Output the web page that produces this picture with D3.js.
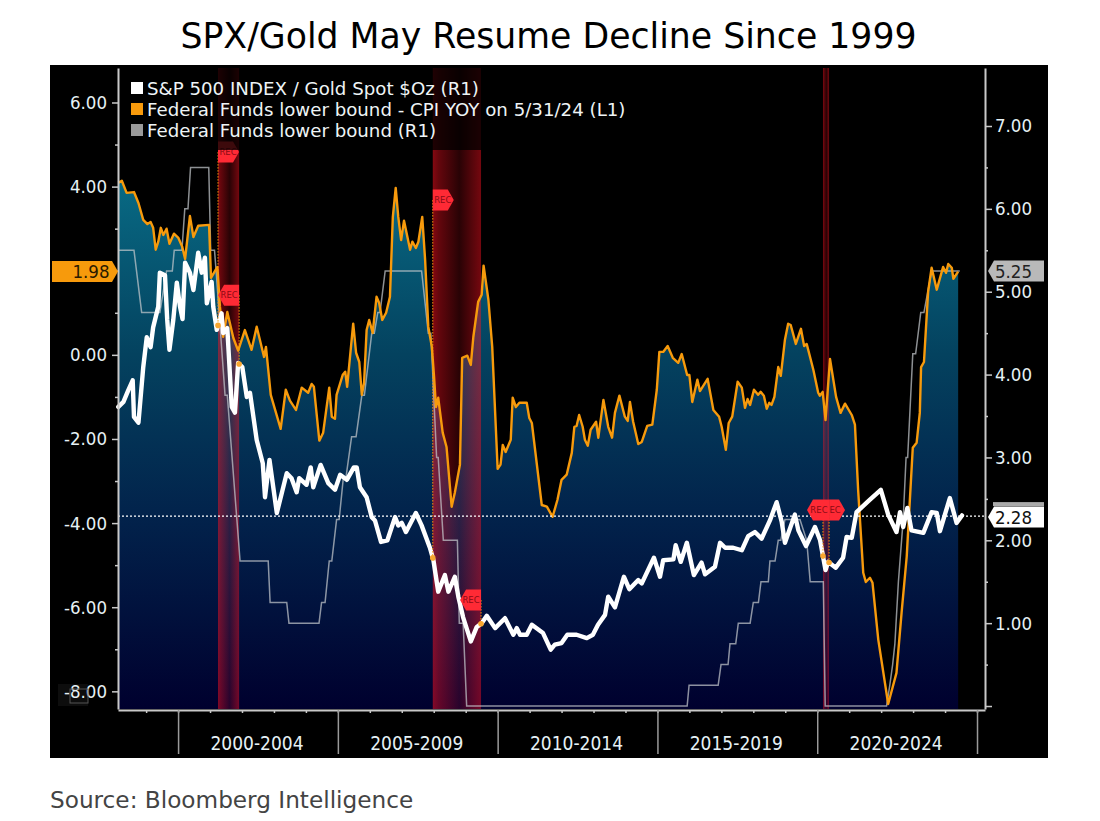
<!DOCTYPE html>
<html><head><meta charset="utf-8">
<script src="https://cdn.jsdelivr.net/npm/d3@7/dist/d3.min.js"></script>
<style>html,body{margin:0;padding:0;background:#fff}svg{display:block}text{font-family:"DejaVu Sans",sans-serif}.cond{font-family:"DejaVu Sans Condensed","DejaVu Sans",sans-serif;font-stretch:condensed}</style>
</head><body><svg id="c" width="1100" height="821"></svg>
<script>
const titleText="SPX/Gold May Resume Decline Since 1999";
const sourceText="Source: Bloomberg Intelligence";
const legendLabels=["S&P 500 INDEX / Gold Spot $Oz (R1)","Federal Funds lower bound - CPI YOY on 5/31/24 (L1)","Federal Funds lower bound (R1)"];
const legendColors=["#ffffff","#f79a0c","#9a9a9a"];
const periodLabels=["2000-2004","2005-2009","2010-2014","2015-2019","2020-2024"];
const periodStarts=[2000,2005,2010,2015,2020];
const leftMajor=[6,4,2,0,-2,-4,-6,-8];
const rightMajor=[7,6,5,4,3,2,1];
const recStart=[2001.25,2007.97,2020.18];
const recEnd=[2001.91,2009.48,2020.37];
const recStartTag=[4.82,3.68,-3.69];
const recEndTag=[1.42,-5.83,-3.69];

const realYears=[
1998.13,1998.24,1998.39,1998.62,1998.76,1998.91,1999.04,1999.14,1999.22,1999.30,
1999.38,1999.46,1999.54,1999.64,1999.73,1999.87,2000.01,2000.13,2000.22,2000.37,
2000.48,2000.63,2000.97,2001.03,2001.23,2001.31,2001.41,2001.54,2001.73,2001.88,
2002.09,2002.30,2002.46,2002.69,2002.75,2002.90,2003.21,2003.37,2003.50,2003.69,
2003.87,2004.07,2004.18,2004.25,2004.42,2004.54,2004.73,2004.81,2004.91,2004.96,
2005.15,2005.23,2005.29,2005.48,2005.57,2005.67,2005.75,2005.82,2005.90,2005.98,
2006.09,2006.21,2006.29,2006.39,2006.51,2006.63,2006.72,2006.81,2006.89,2006.98,
2007.07,2007.26,2007.33,2007.44,2007.52,2007.64,2007.73,2007.83,2007.94,2008.01,
2008.07,2008.14,2008.28,2008.40,2008.56,2008.66,2008.82,2008.89,2009.05,2009.16,
2009.24,2009.39,2009.50,2009.56,2009.71,2009.83,2010.00,2010.09,2010.16,2010.25,
2010.41,2010.47,2010.57,2010.68,2010.91,2010.99,2011.07,2011.38,2011.54,2011.72,
2011.87,2012.00,2012.16,2012.32,2012.40,2012.47,2012.55,2012.66,2012.73,2012.82,
2012.91,2013.08,2013.15,2013.31,2013.46,2013.58,2013.67,2013.81,2013.98,2014.07,
2014.14,2014.24,2014.40,2014.51,2014.68,2014.84,2014.98,2015.06,2015.18,2015.32,
2015.48,2015.65,2015.76,2015.93,2016.00,2016.09,2016.25,2016.33,2016.57,2016.75,
2016.93,2017.01,2017.14,2017.23,2017.34,2017.51,2017.64,2017.74,2017.82,2017.90,
2018.02,2018.15,2018.23,2018.33,2018.42,2018.50,2018.57,2018.66,2018.78,2018.86,
2018.99,2019.09,2019.17,2019.33,2019.49,2019.59,2019.67,2019.88,2020.03,2020.08,
2020.17,2020.26,2020.40,2020.59,2020.73,2020.87,2021.08,2021.18,2021.28,2021.44,
2021.52,2021.65,2021.73,2021.91,2022.22,2022.48,2022.64,2022.80,2022.99,2023.11,
2023.21,2023.25,2023.34,2023.47,2023.58,2023.74,2023.94,2024.03,2024.10,2024.21,
2024.26,2024.41];
const realRate=[
4.09,4.14,3.85,3.87,3.61,3.21,3.11,3.16,3.02,2.50,
2.69,3.02,2.85,3.00,2.64,2.88,2.78,2.57,2.28,3.30,
2.80,3.07,3.09,1.83,2.09,1.14,0.43,1.02,0.40,0.10,
0.59,0.12,0.67,-0.05,0.19,-0.95,-1.76,-0.83,-1.09,-1.31,
-0.78,-0.90,-0.69,-0.76,-2.04,-1.85,-0.78,-1.47,-1.52,-0.95,
-0.48,-0.40,-0.76,0.74,0.05,-0.17,-0.95,-0.67,0.59,0.83,
0.52,1.38,1.24,0.83,1.00,1.38,3.28,3.97,3.28,2.73,
3.19,2.50,2.69,2.54,2.69,3.28,2.26,0.67,0.19,-0.52,
-1.24,-1.02,-1.85,-2.19,-3.61,-3.28,-2.61,-0.07,-0.02,-0.24,
0.43,1.26,1.43,2.12,1.31,0.19,-2.71,-2.61,-2.14,-2.31,
-2.02,-1.02,-1.24,-1.14,-1.14,-1.50,-1.62,-3.57,-3.61,-3.85,
-3.45,-2.97,-2.85,-2.33,-1.71,-1.69,-1.43,-1.71,-2.02,-2.16,
-1.78,-1.59,-1.97,-1.07,-1.71,-1.97,-1.38,-0.97,-1.47,-1.57,
-1.12,-1.59,-2.12,-2.07,-1.69,-1.66,-0.83,0.07,0.07,0.21,
-0.07,-0.19,0.02,-0.48,-0.48,-1.12,-0.59,-0.86,-0.57,-1.31,
-1.47,-1.71,-2.26,-1.62,-1.47,-0.64,-0.78,-1.26,-1.05,-1.19,
-0.83,-0.95,-0.88,-0.97,-1.28,-1.14,-1.19,-1.00,-0.29,-0.50,
0.36,0.74,0.71,0.26,0.62,0.21,0.26,-0.36,-0.90,-0.97,
-0.88,-1.55,-0.10,-1.00,-1.38,-1.16,-1.43,-1.66,-3.21,-5.18,
-5.40,-5.30,-5.42,-6.77,-8.30,-7.56,-6.13,-4.80,-2.21,-2.09,
-1.38,-0.29,-0.17,1.50,2.07,1.55,2.09,1.95,2.16,2.07,
1.81,1.98];

const ratioYears=[
1998.13,1998.29,1998.44,1998.58,1998.62,1998.76,1998.91,1999.02,1999.14,1999.22,
1999.38,1999.43,1999.59,1999.66,1999.73,1999.85,1999.96,2000.06,2000.14,2000.22,
2000.37,2000.48,2000.63,2000.74,2000.84,2000.90,2001.05,2001.10,2001.21,2001.36,
2001.41,2001.54,2001.68,2001.78,2001.88,2002.01,2002.15,2002.25,2002.46,2002.65,
2002.72,2002.86,2003.09,2003.40,2003.55,2003.71,2003.79,2004.02,2004.15,2004.23,
2004.46,2004.70,2004.91,2005.07,2005.28,2005.50,2005.59,2005.69,2005.90,2006.06,
2006.16,2006.35,2006.55,2006.79,2006.89,2007.00,2007.13,2007.44,2007.62,2007.88,
2007.99,2008.14,2008.35,2008.46,2008.66,2008.77,2008.92,2009.16,2009.34,2009.50,
2009.66,2009.92,2010.23,2010.49,2010.60,2010.70,2010.91,2011.07,2011.42,2011.66,
2011.79,2012.00,2012.18,2012.47,2012.79,2012.98,2013.14,2013.36,2013.46,2013.67,
2013.95,2014.12,2014.40,2014.51,2014.89,2015.08,2015.18,2015.50,2015.57,2015.73,
2015.92,2016.14,2016.38,2016.49,2016.80,2016.96,2017.12,2017.37,2017.64,2017.84,
2018.05,2018.26,2018.52,2018.73,2018.89,2018.99,2019.30,2019.41,2019.65,2019.93,
2020.09,2020.26,2020.34,2020.58,2020.81,2020.92,2021.08,2021.23,2021.65,2021.99,
2022.22,2022.48,2022.59,2022.69,2022.82,2022.95,2023.32,2023.58,2023.74,2023.84,
2024.15,2024.36,2024.53];
const ratioValues=[
3.61,3.67,3.81,3.93,3.49,3.42,4.09,4.45,4.33,4.57,
4.82,5.23,5.20,4.66,4.30,4.66,5.11,4.82,4.67,5.35,
5.23,5.02,5.47,5.23,5.41,4.86,5.12,4.82,4.54,4.74,
4.50,4.56,3.61,3.54,4.14,4.09,3.73,3.78,3.21,2.93,
2.52,2.97,2.33,2.81,2.75,2.58,2.75,2.67,2.88,2.64,
2.91,2.69,2.61,2.79,2.73,2.88,2.88,2.64,2.52,2.28,
2.24,1.98,2.00,2.28,2.18,2.21,2.10,2.33,2.18,1.91,
1.76,1.38,1.58,1.38,1.56,1.32,1.07,0.78,0.95,1.00,
1.09,0.94,1.06,0.86,0.94,0.86,0.86,0.98,0.88,0.68,
0.74,0.76,0.86,0.86,0.82,0.86,0.98,1.10,1.32,1.19,
1.56,1.41,1.52,1.48,1.79,1.56,1.76,1.77,1.94,1.74,
1.97,1.58,1.73,1.59,1.68,1.97,1.91,1.91,1.88,2.05,
2.10,2.02,2.24,2.46,2.22,1.97,2.31,2.12,1.93,2.16,
2.00,1.64,1.74,1.67,1.79,2.04,2.03,2.34,2.49,2.61,
2.31,2.10,2.34,2.16,2.39,2.12,2.09,2.34,2.33,2.11,
2.51,2.21,2.30];

const fedYears=[
1998.12,1998.62,1998.86,1999.43,1999.64,1999.82,1999.88,2000.12,2000.21,2000.31,
2000.39,2000.96,2001.02,2001.14,2001.19,2001.47,2001.54,2001.94,2002.82,2002.88,
2003.40,2003.47,2004.41,2004.49,2004.60,2004.73,2004.81,2004.96,2005.04,2005.17,
2005.25,2005.43,2005.57,2005.75,2005.83,2006.06,2006.14,2006.25,2006.32,2006.48,
2007.62,2007.83,2007.91,2008.09,2008.14,2008.30,2008.74,2008.80,2008.92,2009.03,
2015.93,2015.99,2016.90,2016.99,2017.21,2017.27,2017.45,2017.53,2017.90,2018.00,
2018.16,2018.24,2018.47,2018.52,2018.68,2018.78,2018.86,2018.99,2019.46,2019.67,
2019.78,2020.19,2020.25,2022.17,2022.27,2022.36,2022.43,2022.54,2022.69,2022.78,
2022.83,2022.99,2023.08,2023.24,2023.34,2023.46,2023.58,2024.46];
const fedValues=[
5.5,5.5,4.75,4.75,5.25,5.25,5.5,5.5,6,6,
6.5,6.5,5.5,5.5,5.25,3.75,3.75,1.75,1.75,1.25,
1.25,1,1,1.25,1.25,1.75,1.75,2.25,2.25,2.75,
2.75,3.25,3.25,3.75,3.75,4.5,4.5,4.75,4.75,5.25,
5.25,4.5,4.5,3,3,2,2,1,1,0,
0,.25,.25,.5,.5,.75,.75,1,1,1.25,
1.25,1.5,1.5,1.75,1.75,2,2,2.25,2.25,2,
1.5,1.5,0,0,.25,.5,.75,1.5,2.25,3,
3,4.25,4.25,4.75,4.75,5,5.25,5.25];

const lastReal=1.98,lastFed=5.25,lastRatio=2.28;

const L=118,R=985,T=68,B=709;
const svg=d3.select("#c");
const x=d3.scaleLinear().domain([1998.12,2025.25]).range([L,R]);
const yL=d3.scaleLinear().domain([6.82,-8.42]).range([T,B]);
const yR=d3.scaleLinear().domain([7.70,-0.036]).range([T,B]);
const zip=(a,b)=>a.map((d,i)=>[d,b[i]]);
const realData=zip(realYears,realRate),ratioData=zip(ratioYears,ratioValues),fedData=zip(fedYears,fedValues);
const ratioAt=d3.scaleLinear().domain(ratioYears).range(ratioValues);

svg.append("rect").attr("x",50).attr("y",65).attr("width",998).attr("height",693).attr("fill","#000");
svg.append("text").attr("x",548.5).attr("y",48).attr("text-anchor","middle").attr("font-size",34.7).attr("fill","#000").text(titleText);
svg.append("text").attr("x",50).attr("y",808).attr("font-size",23.2).attr("fill","#444").text(sourceText);

const defs=svg.append("defs");
const g=defs.append("linearGradient").attr("id","fillG").attr("gradientUnits","userSpaceOnUse").attr("x1",0).attr("x2",0).attr("y1",180).attr("y2",B);
[[0,"#086a84"],[.33,"#04425f"],[.64,"#02224b"],[1,"#00002e"]].forEach(s=>g.append("stop").attr("offset",s[0]).attr("stop-color",s[1]));
const rg=defs.append("linearGradient").attr("id","recG");
[[0,.52],[.12,.4],[.55,.16],[.85,.36],[1,.46]].forEach(s=>rg.append("stop").attr("offset",s[0]).attr("stop-color","#ff1020").attr("stop-opacity",s[1]));

const area=d3.area().x(d=>x(d[0])).y0(B).y1(d=>yL(d[1]));
svg.append("path").datum(realData).attr("d",area).attr("fill","url(#fillG)");

svg.selectAll(".rec").data(recStart).join("rect").attr("class","rec")
 .attr("x",d=>x(d)).attr("width",(d,i)=>x(recEnd[i])-x(d)).attr("y",T).attr("height",B-T).attr("fill","url(#recG)");

svg.append("path").datum(fedData).attr("d",d3.line().x(d=>x(d[0])).y(d=>yR(d[1])))
 .attr("fill","none").attr("stroke","#c4c8cc").attr("stroke-opacity",.72).attr("stroke-width",1.5);
svg.append("path").datum(realData).attr("d",d3.line().x(d=>x(d[0])).y(d=>yL(d[1])))
 .attr("fill","none").attr("stroke","#f79a0c").attr("stroke-width",2.4).attr("stroke-linejoin","round");
svg.append("line").attr("x1",L).attr("x2",R).attr("y1",yR(lastRatio)-1).attr("y2",yR(lastRatio)-1)
 .attr("stroke","#fff").attr("stroke-width",1.3).attr("stroke-dasharray","2 2");
svg.append("path").datum(ratioData).attr("d",d3.line().x(d=>x(d[0])).y(d=>yR(d[1])))
 .attr("fill","none").attr("stroke","#fff").attr("stroke-width",4.4).attr("stroke-linejoin","round").attr("stroke-linecap","round");

// recession markers
function tag(px,py,dir,w){
  const h=10.5,c=6;
  const pts= dir>0
   ? [[px,py-h],[px+w-c,py-h],[px+w,py],[px+w-c,py+h],[px,py+h]]
   : [[px,py-h],[px-w+c,py-h],[px-w,py],[px-w+c,py+h],[px,py+h]];
  return pts.map(p=>p.join(",")).join(" ");
}
const dots=[];
recStart.forEach((s,i)=>{
 const e=recEnd[i];
 [[s,recStartTag[i]],[e,recEndTag[i]]].forEach(([t,v])=>{
   const ya=yL(v),yb=yR(ratioAt(t));
   svg.append("line").attr("x1",x(t)).attr("x2",x(t)).attr("y1",ya).attr("y2",yb)
     .attr("stroke","#f79a0c").attr("stroke-width",1).attr("stroke-dasharray","1.5 1.5");
   dots.push([x(t),yb]);
 });
});
svg.selectAll(".dot").data(dots).join("circle").attr("class","dot").attr("cx",d=>d[0]).attr("cy",d=>d[1]).attr("r",2.8).attr("fill","#f9a730");
recStart.forEach((s,i)=>{
 const e=recEnd[i];
 const narrow=x(e)-x(s)<15;
 const w=narrow?16:21;
 svg.append("polygon").attr("points",tag(x(s),yL(recStartTag[i]),narrow?-1:1,w)).attr("fill","#ff2a35");
 svg.append("polygon").attr("points",tag(x(e),yL(recEndTag[i]),narrow?1:-1,w)).attr("fill","#ff2a35");
 if(narrow)svg.append("rect").attr("x",x(s)).attr("y",yL(recStartTag[i])-10.5).attr("width",x(e)-x(s)).attr("height",21).attr("fill","#ff2a35");
 const lab=(t,v,txt)=>svg.append("text").attr("x",t).attr("y",yL(v)+3).attr("text-anchor","middle").attr("font-size",8.5).attr("fill","#8c0a14").text(txt);
 if(narrow){lab(x(s)-4,recStartTag[i],"REC");lab(x(e)+6,recEndTag[i],"EC");}
 else{lab(x(s)+10,recStartTag[i],"REC");lab(x(e)-10,recEndTag[i],"REC");}
});

// legend
svg.append("rect").attr("x",L).attr("y",T).attr("width",518).attr("height",82).attr("fill","#000").attr("fill-opacity",.76);
legendLabels.forEach((t,i)=>{
 const cy=88+i*21;
 svg.append("rect").attr("x",131).attr("y",cy-6).attr("width",12).attr("height",12).attr("fill",legendColors[i]);
 svg.append("text").attr("x",147).attr("y",cy+6.5).attr("font-size",18.2).attr("fill","#eef4f6").text(t);
});

// axes
const axisCol="#c9c9c9",labCol="#e6f1f5",tickFont=18.5;
function style(sel){sel.selectAll("path.domain").attr("stroke",axisCol).attr("stroke-width",2);sel.selectAll("line").attr("stroke",axisCol).attr("stroke-width",1.5);sel.selectAll("text").attr("class","cond").attr("fill",labCol).attr("font-size",tickFont).attr("font-family",null);}
const aL=svg.append("g").attr("transform",`translate(${L},0)`).call(d3.axisLeft(yL).tickValues(leftMajor).tickSize(6).tickSizeOuter(0).tickPadding(5));
style(aL);
aL.selectAll("text").text(d=>d===2?"":d3.format(".2f")(d).replace("−","-"));
const aLm=svg.append("g").attr("transform",`translate(${L},0)`).call(d3.axisLeft(yL).tickValues(d3.range(-7,7,2)).tickSize(3).tickFormat(""));
style(aLm);aLm.select("path.domain").remove();
const aR=svg.append("g").attr("transform",`translate(${R},0)`).call(d3.axisRight(yR).tickValues(rightMajor.concat([0])).tickSize(7).tickSizeOuter(0).tickPadding(3).tickFormat(d=>d?d3.format(".2f")(d):""));
style(aR);
const aRm=svg.append("g").attr("transform",`translate(${R},0)`).call(d3.axisRight(yR).tickValues(d3.range(.5,7.5,1)).tickSize(3).tickFormat(""));
style(aRm);aRm.select("path.domain").remove();
const aB=svg.append("g").attr("transform",`translate(0,${B+1})`).call(d3.axisBottom(x).tickValues(d3.range(1999,2026)).tickSize(3).tickSizeOuter(0).tickFormat(""));
style(aB);
const aBM=svg.append("g").attr("transform",`translate(0,${B+1})`).call(d3.axisBottom(x).tickValues(periodStarts.concat([2025])).tickSize(44).tickFormat(""));
style(aBM);aBM.select("path.domain").remove();aBM.selectAll("line").attr("stroke","#9a9a9a");
periodLabels.forEach((t,i)=>svg.append("text").attr("class","cond").attr("x",x(periodStarts[i]+2.5)-1).attr("y",750).attr("text-anchor","middle").attr("font-size",19).attr("fill",labCol).text(t));

// ghost box near -8.00
svg.append("rect").attr("x",58).attr("y",684).attr("width",30).attr("height",22).attr("fill","#fff").attr("fill-opacity",.05);
svg.append("rect").attr("x",70).attr("y",689).attr("width",18).attr("height",14).attr("fill","none").attr("stroke","#555");

// value tags
function leftTag(yv,fill,txt,col){
 const h=10.5,xa=988,xb=1044,n=6;
 svg.append("polygon").attr("points",[[xa,yv],[xa+n,yv-h],[xb,yv-h],[xb,yv+h],[xa+n,yv+h]].map(p=>p.join(",")).join(" ")).attr("fill",fill);
 svg.append("text").attr("class","cond").attr("x",xa+7).attr("y",yv+6.5).attr("font-size",tickFont).attr("fill",col).text(txt);
}
svg.append("polygon").attr("points",[[52,yL(lastReal)-10.5],[112,yL(lastReal)-10.5],[118,yL(lastReal)],[112,yL(lastReal)+10.5],[52,yL(lastReal)+10.5]].map(p=>p.join(",")).join(" ")).attr("fill","#f79a0c");
svg.append("text").attr("class","cond").attr("x",91).attr("y",yL(lastReal)+6.5).attr("text-anchor","middle").attr("font-size",tickFont).attr("fill","#2a1a00").text(d3.format(".2f")(lastReal));
leftTag(yR(lastFed),"#b9b9b9",d3.format(".2f")(lastFed),"#222");
svg.append("rect").attr("x",993).attr("y",yR(lastRatio)-15).attr("width",51).attr("height",4).attr("fill","#aaa");
leftTag(yR(lastRatio),"#ffffff",d3.format(".2f")(lastRatio),"#111");
</script></body></html>
